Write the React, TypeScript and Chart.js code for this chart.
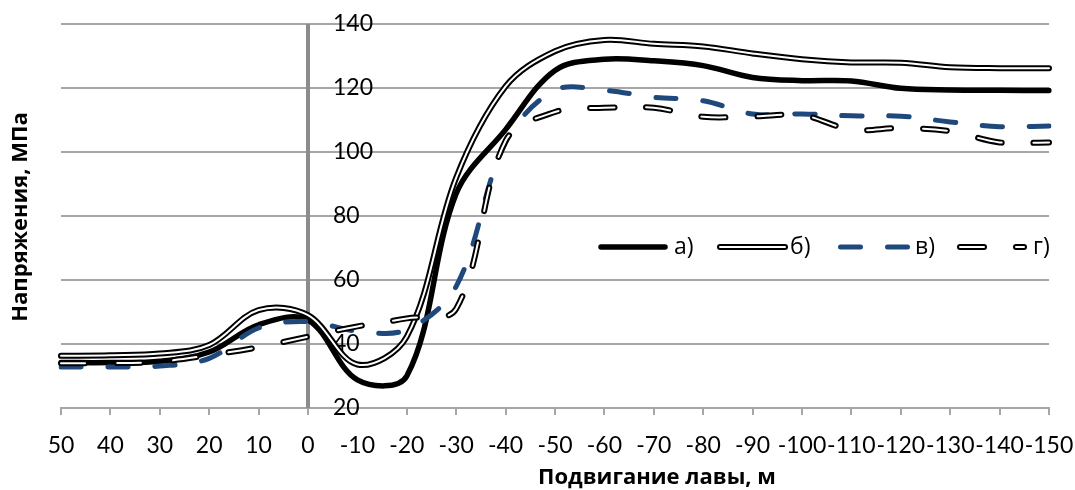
import React, { useEffect, useRef } from 'react';
import { Chart, registerables } from 'chart.js';

Chart.register(...registerables);

// ---- data ----
const xLabels = ['50', '40', '30', '20', '10', '0', '-10', '-20', '-30', '-40', '-50', '-60', '-70', '-80', '-90', '-100', '-110', '-120', '-130', '-140', '-150'];
const yTicks = [20, 40, 60, 80, 100, 120, 140];
const seriesNames = ['а)', 'б)', 'в)', 'г)'];
const xTitle = 'Подвигание лавы, м';
const yTitle = 'Напряжения, МПа';

const seriesA = [34.2, 34.2, 34.6, 37.5, 46, 47.5, 28.8, 30, 87, 107, 125.5, 129, 128.5, 127, 123.3, 122.3, 122.2, 119.9, 119.4, 119.3, 119.2];
const seriesB = [36.3, 36.5, 37, 39.7, 50.6, 49, 33.6, 42.3, 92, 120.5, 131.5, 135, 133.8, 133, 130.8, 129, 128, 127.9, 126.5, 126.2, 126.2];
const seriesV = [32.8, 32.8, 33.1, 35.5, 45, 47, 44, 44.5, 58, 103, 119.3, 119.3, 117.1, 116, 111.9, 111.9, 111.3, 111.2, 109.4, 107.9, 108.1];
const seriesG = [34, 34, 34.5, 36.5, 39, 42.3, 45.5, 48, 51, 103.5, 112.5, 113.8, 113.8, 111, 111.1, 111.5, 107, 107.5, 106.5, 103, 103];

// ---- styles ----
const GRID = '#a6a6a6';
const BLUE = '#1F497D';
const DASH_V = [20, 27];
const DASH_G = [24, 32];
const TICK_FAMILY = 'Lato, "Open Sans", sans-serif';
const TICK_FONT = '23px ' + TICK_FAMILY;
const LEGEND_FONT = '23px "Open Sans", Roboto, sans-serif';
const TITLE_FONT = 'bold 22px "Open Sans", Roboto, sans-serif';

type Stroke = { color: string; width: number; dash: number[] };
const legendItems: { strokes: Stroke[]; x1: number; x2: number; tx: number }[] = [
  { strokes: [{ color: '#000', width: 5.5, dash: [] }], x1: 601, x2: 665, tx: 674 },
  { strokes: [{ color: '#000', width: 6, dash: [] }, { color: '#fff', width: 2, dash: [] }], x1: 720, x2: 785, tx: 790 },
  { strokes: [{ color: BLUE, width: 5, dash: DASH_V }], x1: 840.5, x2: 910, tx: 915 },
  { strokes: [{ color: '#000', width: 6, dash: DASH_G }, { color: '#fff', width: 2, dash: DASH_G }], x1: 960, x2: 1024, tx: 1033 },
];

const annotate = {
  id: 'annotate',
  beforeDatasetsDraw(chart: any) {
    const { ctx, chartArea, scales } = chart;
    const xs = scales.x;
    const ys = scales.y;
    const x0 = xs.getPixelForValue(xLabels.indexOf('0'));
    ctx.save();
    ctx.strokeStyle = '#8c8c8c';
    ctx.lineWidth = 4;
    ctx.beginPath();
    ctx.moveTo(x0, chartArea.top);
    ctx.lineTo(x0, chartArea.bottom);
    ctx.stroke();
    ctx.fillStyle = '#000';
    ctx.font = TICK_FONT;
    ctx.textAlign = 'left';
    ctx.textBaseline = 'middle';
    yTicks.forEach((v) => ctx.fillText(String(v), x0 + 25, ys.getPixelForValue(v)));
    ctx.restore();
  },
  afterDatasetsDraw(chart: any) {
    const { ctx } = chart;
    ctx.save();
    const ly = 247;
    legendItems.forEach((it, i) => {
      it.strokes.forEach((s) => {
        ctx.strokeStyle = s.color;
        ctx.lineWidth = s.width;
        ctx.lineCap = 'round';
        ctx.setLineDash(s.dash);
        ctx.beginPath();
        ctx.moveTo(it.x1, ly);
        ctx.lineTo(it.x2, ly);
        ctx.stroke();
      });
      ctx.setLineDash([]);
      ctx.fillStyle = '#000';
      ctx.font = LEGEND_FONT;
      ctx.textAlign = 'left';
      ctx.textBaseline = 'middle';
      ctx.fillText(seriesNames[i], it.tx, ly);
    });
    // axis titles
    ctx.font = TITLE_FONT;
    ctx.fillStyle = '#000';
    ctx.textAlign = 'center';
    ctx.textBaseline = 'middle';
    ctx.fillText(xTitle, 657, 478);
    ctx.translate(21, 217);
    ctx.rotate(-Math.PI / 2);
    ctx.fillText(yTitle, 0, 0);
    ctx.restore();
  },
};

export default function App() {
  const ref = useRef<HTMLCanvasElement | null>(null);
  useEffect(() => {
    if (!ref.current) return;
    const common = { pointRadius: 0, pointHoverRadius: 0, borderCapStyle: 'round', borderJoinStyle: 'round', fill: false, tension: 0.35 };
    const chart = new Chart(ref.current, {
      type: 'line',
      data: {
        labels: xLabels,
        datasets: [
          { ...common, label: seriesNames[0], data: seriesA, borderColor: '#000', borderWidth: 5.5, order: 6 },
          { ...common, label: seriesNames[1], data: seriesB, borderColor: '#000', borderWidth: 6, order: 5 },
          { ...common, label: seriesNames[1] + ' inner', data: seriesB, borderColor: '#fff', borderWidth: 2, order: 4 },
          { ...common, label: seriesNames[2], data: seriesV, borderColor: BLUE, borderWidth: 5, borderDash: DASH_V, order: 3 },
          { ...common, label: seriesNames[3], data: seriesG, borderColor: '#000', borderWidth: 6, borderDash: DASH_G, order: 2 },
          { ...common, label: seriesNames[3] + ' inner', data: seriesG, borderColor: '#fff', borderWidth: 2, borderDash: DASH_G, order: 1 },
        ] as any,
      },
      options: {
        animation: false,
        responsive: false,
        layout: { padding: { left: 61, right: 26, top: 24, bottom: 32 } },
        plugins: { legend: { display: false }, tooltip: { enabled: false }, title: { display: false } },
        scales: {
          x: {
            type: 'category',
            offset: false,
            grid: { drawOnChartArea: false, drawTicks: true, tickLength: 7, color: GRID, lineWidth: 2 },
            border: { display: true, color: GRID, width: 2 },
            ticks: { color: '#000', font: { family: TICK_FAMILY, size: 23 }, padding: 17, maxRotation: 0, autoSkip: false },
            afterFit: (scale: any) => {
              scale.height = 50;
              scale.paddingLeft = 0;
              scale.paddingRight = 0;
            },
          },
          y: {
            min: 20,
            max: 140,
            ticks: { stepSize: 20, display: false },
            grid: { color: GRID, lineWidth: 2, drawTicks: false },
            border: { display: false },
          },
        },
      } as any,
      plugins: [annotate],
    });
    return () => chart.destroy();
  }, []);
  return (
    <canvas ref={ref} width={1075} height={490} style={{ position: 'absolute', left: 0, top: 0, display: 'block' }} />
  );
}
